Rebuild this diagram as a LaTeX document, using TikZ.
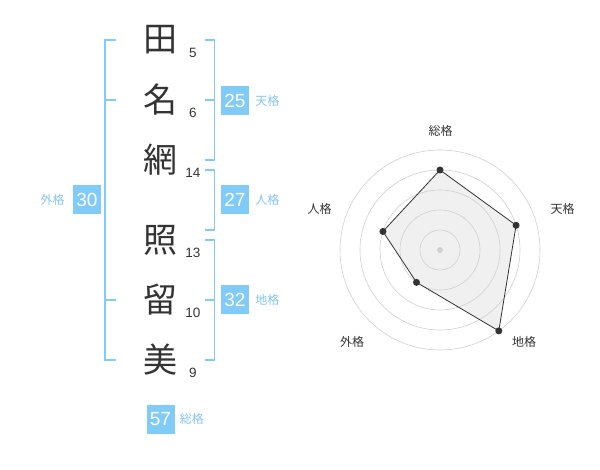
\documentclass[tikz,border=0pt]{standalone}
\usepackage{fontspec}
\setmainfont{Liberation Sans}
\newfontfamily\jpfont{Noto Sans CJK JP}
\usepackage{xcolor}
\usepackage{tikz}
\usetikzlibrary{positioning}
\definecolor{skyblue}{HTML}{80CBF8}
\definecolor{labelblue}{HTML}{82C6EE}
\definecolor{inkgray}{HTML}{333333}
\definecolor{gridgray}{HTML}{D0D0D0}

\begin{document}
\begin{tikzpicture} [x = 1pt, y = 1pt,
          kanji/.style = {font = \jpfont\fontsize{34}{34}\selectfont,
              text = inkgray, inner sep = 0pt},
          strokes/.style = {font = \fontsize{13.5}{14}\selectfont,
              text = inkgray, inner sep = 0pt},
          score/.style = {fill = skyblue, text = white,
              font = \fontsize{19}{19}\selectfont,
              minimum width = 28pt, minimum height = 29pt, inner sep = 0pt},
          kaku/.style = {font = \jpfont\fontsize{12}{12}\selectfont,
              text = labelblue, inner sep = 0pt},
          bracket/.style = {draw = skyblue, line width = 1.8pt},
          ring/.style = {draw = gridgray, line width = 0.6pt},
          axis/.style = {font = \jpfont\fontsize{12}{12}\selectfont,
              text = inkgray, inner sep = 0pt},
          dot/.style = {circle, fill = inkgray, inner sep = 0pt, minimum size = 7pt}
          ]
          \useasboundingbox (0,0) rectangle (600,-470);

          % Name
          \node (k1) [kanji] at (160,-40)  {田};
          \node (k2) [kanji] at (160,-100) {名};
          \node (k3) [kanji] at (160,-160) {網};
          \node (k4) [kanji] at (160,-240) {照};
          \node (k5) [kanji] at (160,-300) {留};
          \node (k6) [kanji] at (160,-360) {美};

          % Strokes
          \node (n1) [strokes] at (193,-53)  {5};
          \node (n2) [strokes] at (193,-113) {6};
          \node (n3) [strokes] at (193,-173) {14};
          \node (n4) [strokes] at (193,-253) {13};
          \node (n5) [strokes] at (193,-313) {10};
          \node (n6) [strokes] at (193,-373) {9};

          % Brackets
          \draw [bracket] (116,-40) -- (105,-40) -- (105,-360) -- (116,-360);
          \draw [bracket] (105,-100) -- (116,-100) (105,-300) -- (116,-300);
          \draw [bracket] (205,-40) -- (214.5,-40) -- (214.5,-160) -- (205,-160);
          \draw [bracket] (205,-100) -- (214.5,-100);
          \draw [bracket] (205,-170) -- (214.5,-170) -- (214.5,-230) -- (205,-230);
          \draw [bracket] (205,-240) -- (214.5,-240) -- (214.5,-360) -- (205,-360);
          \draw [bracket] (205,-300) -- (214.5,-300);

          % Scores
          \node (gai) [score] at (87,-200)    {30};
          \node (ten) [score] at (235,-100.5) {25};
          \node (jin) [score] at (235,-200)   {27};
          \node (chi) [score] at (235,-300)   {32};
          \node (sou) [score] at (160.5,-419) {57};
          \node (gail) [kaku, left = 8pt of gai]   {外格};
          \node (tenl) [kaku, right = 6pt of ten]  {天格};
          \node (jinl) [kaku, right = 6pt of jin]  {人格};
          \node (chil) [kaku, right = 6pt of chi]  {地格};
          \node (soul) [kaku, right = 5pt of sou]  {総格};

          % Radar
          \begin{scope}[shift = {(440,-250)}]
            \coordinate (radar) at (0,0);
            \coordinate (psou) at (90:80);
            \coordinate (pten) at (18:80);
            \coordinate (pchi) at (-54:100);
            \coordinate (pgai) at (-126:40);
            \coordinate (pjin) at (162:60);

            \fill [gray!12] (psou) -- (pten) -- (pchi) -- (pgai) -- (pjin) -- cycle;
            \foreach \r in {20,40,60,80,100}
              \draw [ring] (radar) circle [radius = \r pt];
            \fill [gridgray] (radar) circle [radius = 3pt];
            \draw [inkgray, line width = 0.8pt]
              (psou) -- (pten) -- (pchi) -- (pgai) -- (pjin) -- cycle;
            \foreach \p in {psou, pten, pchi, pgai, pjin}
              \node [dot] at (\p) {};

            \node (asou) [axis] at (0.5,119.5)   {総格};
            \node (aten) [axis] at (122.5,41)    {天格};
            \node (achi) [axis] at (84,-92)      {地格};
            \node (agai) [axis] at (-88,-92)     {外格};
            \node (ajin) [axis] at (-120.5,41)   {人格};
          \end{scope}

\end{tikzpicture}
\end{document}
